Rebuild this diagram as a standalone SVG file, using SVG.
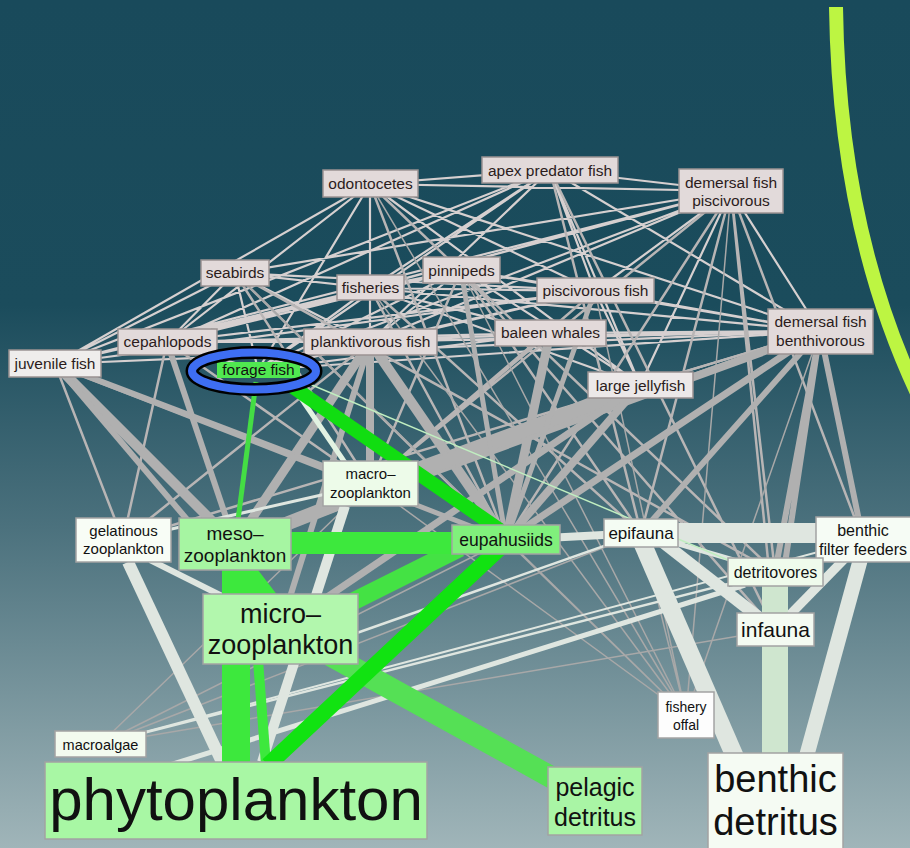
<svg xmlns="http://www.w3.org/2000/svg" width="910" height="848" viewBox="0 0 910 848">
<defs>
<linearGradient id="bg" x1="0" y1="0" x2="0" y2="1">
<stop offset="0" stop-color="#194a5b"/>
<stop offset="0.36" stop-color="#1b4c5c"/>
<stop offset="0.62" stop-color="#4b717d"/>
<stop offset="1" stop-color="#a0b5b9"/>
</linearGradient>
<style>
text{font-family:"Liberation Sans",Arial,sans-serif;text-anchor:middle;fill:#111}
.top rect{fill:#e2dada;stroke:#9b9292;stroke-width:1.5}
.top text{fill:#2b1c1c;font-size:15.5px}
.lo rect{stroke:#a3a3a3;stroke-width:1.5}
.t{stroke:#d6d0d0;stroke-width:2.2;fill:none}
.g{stroke:#b8b5b5;stroke-width:2.5;fill:none}
.o{stroke:#a8a8a8;stroke-width:1.5;fill:none}
.k{stroke:#b0b0b0;fill:none}
.w{stroke:#dfe6e0;fill:none}
</style>
</defs>
<rect width="910" height="848" fill="url(#bg)"/>
<path d="M836 7Q839 228 918 395" stroke="#bdf542" stroke-width="14" fill="none"/>
<g id="connectors">
<path class="t" d="M370 184L550 170M370 184L731 191M550 170L731 191M370 184L55 364M370 184L167 342M370 184L370 342M370 184L258 370M370 184L595 291M370 184L820 331M370 184L640 385M550 170L55 364M550 170L167 342M550 170L370 342M550 170L258 370M550 170L595 291M550 170L820 331M550 170L640 385M550 170L370 288M731 191L55 364M731 191L167 342M731 191L258 370M731 191L370 342M731 191L595 291M731 191L640 385M731 191L820 331M731 191L370 288M731 191L235 273M235 273L55 364M235 273L167 342M235 273L258 370M235 273L370 342M235 273L370 288M235 273L595 291M370 288L55 364M370 288L167 342M370 288L258 370M370 288L461 270M370 288L595 291M370 288L820 331M370 288L550 333M370 288L640 385M461 270L55 364M461 270L167 342M461 270L258 370M461 270L370 342M461 270L595 291M461 270L820 331M461 270L640 385M595 291L55 364M595 291L167 342M595 291L258 370M595 291L370 342M595 291L820 331M595 291L640 385M550 333L258 370M550 333L370 342M167 342L258 370M167 342L370 342M820 331L167 342M820 331L370 342M820 331L258 370M820 331L640 385"/>
<path class="t" stroke-width="6" d="M55 364L820 331"/>
<path class="t" stroke-width="8" d="M550 333L820 331"/>
<path class="t" stroke-width="4" d="M167 342L550 333"/>
<path class="g" d="M731 191L641 533M731 191L863 540M731 191L775 572M731 191L775 630M731 191L370 484M731 191L506 540M235 273L370 484M235 273L506 540M370 288L506 540M370 288L641 533M461 270L641 533M461 270L775 630M595 291L370 484M370 184L506 540M550 170L641 533M550 333L370 484M461 270L370 484M167 342L370 484M167 342L123 540M55 364L123 540M640 385L123 540M370 342L123 540M820 331L123 540M820 331L370 484M550 170L775 630M370 184L775 572M235 273L775 572"/>
<path class="o" d="M686 715L235 273M686 715L370 288M686 715L461 270M686 715L595 291M686 715L731 191M686 715L820 331M686 715L370 184M686 715L370 484M686 715L641 533M686 715L506 540M100 744L641 533M100 744L506 540M100 744L775 630M100 744L370 484"/>
<g class="k">
<path stroke-width="6" d="M820 331L641 533M820 331L775 572M820 331L775 630M820 331L863 540"/>
<path stroke-width="10" d="M55 364L235 544"/>
<path stroke-width="8" d="M370 342L370 484"/>
<path stroke-width="10" d="M370 342L506 540"/>
<path stroke-width="9" d="M640 385L370 484"/>
<path stroke-width="9" d="M370 342L235 544"/>
<path stroke-width="8" d="M820 331L235 544"/>
<path stroke-width="6" d="M55 364L280 629"/>
<path stroke-width="9" d="M550 333L506 540"/>
<path stroke-width="14" d="M640 385L235 544"/>
<path stroke-width="6" d="M167 342L235 544"/>
<path stroke-width="8" d="M640 385L506 540"/>
<path stroke-width="7" d="M640 385L280 629"/>
<path stroke-width="6" d="M55 364L370 484"/>
<path stroke-width="5" d="M55 364L506 540M595 291L506 540M461 270L506 540"/>
<path stroke-width="7" d="M820 331L506 540"/>
<path stroke-width="6" d="M370 342L280 629"/>
</g>
<g class="w">
<path stroke-width="12" d="M128 562L222 762"/>
<path stroke-width="10" d="M345 506L262 762"/>
<path stroke-width="6" d="M150 560L230 600"/>
<path stroke-width="3" d="M123 540L370 484"/>
<path stroke-width="20" d="M641 533L863 533"/>
<path stroke-width="18" d="M641 540L745 780"/>
<path stroke-width="15" d="M863 550L800 780"/>
<path stroke-width="12" d="M660 540L775 630"/>
<path stroke-width="9" d="M863 540L775 630"/>
<path stroke-width="8" d="M506 540L641 533"/>
<path stroke-width="2.5" d="M641 533L280 660"/>
<path stroke-width="5" d="M745 585L170 765"/>
<path stroke-width="2.5" d="M100 744L775 572"/>
<path stroke-width="2" d="M100 744L863 540"/>
<path stroke-width="5" d="M641 533L775 572"/>
<path stroke="#cfe6cf" stroke-width="26" d="M775 586L775 760"/>
<path stroke="#e2f2e2" stroke-width="5" d="M290 382L350 470"/>
</g>
<path d="M300 380L740 565" stroke="#c0eec0" stroke-width="1.5"/>
<path d="M330 655L560 782" stroke="#55e055" stroke-width="22"/>
<path d="M340 608L460 548" stroke="#44e244" stroke-width="18"/>
<path d="M280 543L460 543" stroke="#3de83d" stroke-width="22"/>
<polygon points="222,570 258,570 278,596 222,596" fill="#3de83d"/>
<path d="M236 660L236 765" stroke="#3de83d" stroke-width="28"/>
<path d="M258 660L266 765" stroke="#3de83d" stroke-width="10"/>
<path d="M256 382L238 520" stroke="#44dd44" stroke-width="5"/>
<path d="M290 385L500 530" stroke="#11dd11" stroke-width="14"/>
<path d="M500 548L268 765" stroke="#11e311" stroke-width="16"/>
</g>
<g id="n-odontocetes" class="top"><rect x="323" y="170" width="95" height="27"/><text x="370.5" y="189">odontocetes</text></g>
<g id="n-apex" class="top"><rect x="482" y="157" width="136" height="26"/><text x="550" y="176">apex predator fish</text></g>
<g id="n-dfp" class="top"><rect x="679" y="169" width="104" height="44"/><text x="731" y="188">demersal fish</text><text x="731" y="206">piscivorous</text></g>
<g id="n-seabirds" class="top"><rect x="201" y="260" width="68" height="26"/><text x="235" y="278">seabirds</text></g>
<g id="n-fisheries" class="top"><rect x="337" y="275" width="67" height="25"/><text x="370.5" y="293">fisheries</text></g>
<g id="n-pinnipeds" class="top"><rect x="423" y="257" width="77" height="26"/><text x="461.5" y="276">pinnipeds</text></g>
<g id="n-pisciv" class="top"><rect x="537" y="278" width="117" height="25"/><text x="595.5" y="296">piscivorous fish</text></g>
<g id="n-cepha" class="top"><rect x="118" y="329" width="99" height="26"/><text x="167.5" y="347">cepahlopods</text></g>
<g id="n-planktiv" class="top"><rect x="304" y="329" width="133" height="26"/><text x="370.5" y="347">planktivorous fish</text></g>
<g id="n-baleen" class="top"><rect x="495" y="320" width="111" height="26"/><text x="550.5" y="338">baleen whales</text></g>
<g id="n-dfb" class="top"><rect x="768" y="309" width="105" height="45"/><text x="820.5" y="327">demersal fish</text><text x="820.5" y="346">benthivorous</text></g>
<g id="n-juvenile" class="top"><rect x="9" y="350" width="92" height="27" style="fill:#efedec"/><text x="55" y="369">juvenile fish</text></g>
<g id="n-jelly" class="top"><rect x="588" y="372" width="105" height="26" style="fill:#ece8e8"/><text x="640.5" y="391">large jellyfish</text></g>
<g id="n-forage">
<rect x="217" y="362" width="83" height="16" fill="#50e850"/>
<text x="258.5" y="375" style="font-size:15.5px">forage fish</text>
<ellipse cx="254" cy="371" rx="62" ry="18.5" fill="none" stroke="#000" stroke-width="13"/>
<ellipse cx="254" cy="371" rx="62" ry="18.5" fill="none" stroke="#3e6ef2" stroke-width="8"/>
</g>
<g id="n-macrozoo" class="lo"><rect x="323" y="461" width="95" height="45" fill="#edfbe9"/><text x="370.5" y="479" font-size="15">macro–</text><text x="370.5" y="498" font-size="15">zooplankton</text></g>
<g id="n-gelat" class="lo"><rect x="76" y="518" width="95" height="44" fill="#f8fdf6"/><text x="123.5" y="536" font-size="15">gelatinous</text><text x="123.5" y="554" font-size="15">zooplankton</text></g>
<g id="n-meso" class="lo"><rect x="179" y="518" width="112" height="52" fill="#a6f5a2"/><text x="235" y="540" font-size="19">meso–</text><text x="235" y="562" font-size="19">zooplankton</text></g>
<g id="n-micro" class="lo"><rect x="203" y="594" width="155" height="70" fill="#b2f7ad"/><text x="280.5" y="623" font-size="27">micro–</text><text x="280.5" y="654" font-size="27">zooplankton</text></g>
<g id="n-eupa" class="lo"><rect x="452" y="525" width="108" height="29" fill="#80f07c"/><text x="506" y="546" font-size="17.5">eupahusiids</text></g>
<g id="n-epifauna" class="lo"><rect x="604" y="519" width="74" height="28" fill="#f4fcf3"/><text x="641" y="539" font-size="17">epifauna</text></g>
<g id="n-bff" class="lo"><rect x="816" y="517" width="100" height="45" fill="#f6fcf5"/><text x="863" y="536" font-size="16">benthic</text><text x="863" y="555" font-size="16">filter feeders</text></g>
<g id="n-detrit" class="lo"><rect x="728" y="558" width="95" height="28" fill="#effbec"/><text x="775.5" y="578" font-size="16">detritovores</text></g>
<g id="n-infauna" class="lo"><rect x="737" y="613" width="77" height="33" fill="#f4fbf2"/><text x="775.5" y="637" font-size="21">infauna</text></g>
<g id="n-macroalgae" class="lo"><rect x="55" y="731" width="91" height="26" fill="#f3fbef"/><text x="100.5" y="750" font-size="14.5">macroalgae</text></g>
<g id="n-phyto" class="lo"><rect x="45" y="762" width="382" height="77" fill="#a8f7a4"/><text x="236" y="820" font-size="60">phytoplankton</text></g>
<g id="n-pelagic" class="lo"><rect x="548" y="767" width="94" height="68" fill="#a9f5a5"/><text x="595" y="796" font-size="25">pelagic</text><text x="595" y="826" font-size="25">detritus</text></g>
<g id="n-offal" class="lo"><rect x="658" y="692" width="56" height="46" fill="#fdfdfd"/><text x="686" y="712" font-size="14">fishery</text><text x="686" y="730" font-size="14">offal</text></g>
<g id="n-bdet" class="lo"><rect x="708" y="753" width="135" height="100" fill="#f5fbf3"/><text x="775.5" y="792" font-size="38">benthic</text><text x="775.5" y="835" font-size="38">detritus</text></g>
</svg>
